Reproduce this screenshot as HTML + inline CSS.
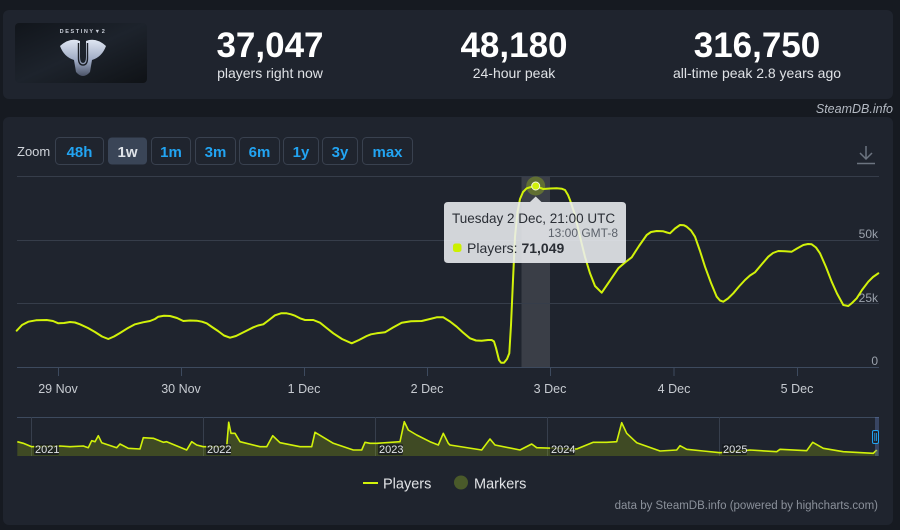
<!DOCTYPE html>
<html><head><meta charset="utf-8"><style>
html,body{margin:0;padding:0;background:#161a21;width:900px;height:530px;overflow:hidden}
svg{display:block}
text{font-family:"Liberation Sans",Arial,sans-serif}
</style></head><body>
<svg width="900" height="530" viewBox="0 0 900 530" xmlns="http://www.w3.org/2000/svg">
<defs>
<linearGradient id="thumb" x1="0" y1="0" x2="1" y2="1">
<stop offset="0" stop-color="#11151b"/><stop offset="0.5" stop-color="#1d232c"/><stop offset="1" stop-color="#0f1216"/>
</linearGradient>
<linearGradient id="logo" x1="0" y1="0" x2="0" y2="1">
<stop offset="0" stop-color="#dfe6f2"/><stop offset="0.6" stop-color="#9aa6c0"/><stop offset="1" stop-color="#4c5468"/>
</linearGradient>
</defs>
<rect x="0" y="0" width="900" height="530" fill="#161a21"/>
<!-- top panel -->
<rect x="3" y="10" width="890" height="89" rx="6" fill="#1f242e"/>
<rect x="15" y="23" width="132" height="60" rx="4" fill="url(#thumb)"/>
<text x="83" y="33" text-anchor="middle" font-size="5.5" letter-spacing="1.6" fill="#c9ced8" font-weight="bold">DESTINY▼2</text>
<path d="M60,46 Q70,37 80,41 L80,57 Q80,63 83,63 Q86,63 86,57 L86,41 Q96,37 106,46 Q102,57 92,60 L90,72 Q83,80 76,72 L74,60 Q64,57 60,46 Z" fill="url(#logo)"/>
<path d="M78.5,43 L78.5,58 Q78.5,65 83,65 Q87.5,65 87.5,58 L87.5,43" fill="none" stroke="#1a1e26" stroke-width="1.4"/>
<!-- stats -->
<text x="270" y="57" text-anchor="middle" font-size="35" font-weight="bold" fill="#ffffff">37,047</text>
<text x="270" y="78" text-anchor="middle" font-size="14" fill="#dfe2e6">players right now</text>
<text x="514" y="57" text-anchor="middle" font-size="35" font-weight="bold" fill="#ffffff">48,180</text>
<text x="514" y="78" text-anchor="middle" font-size="14" fill="#dfe2e6">24-hour peak</text>
<text x="757" y="57" text-anchor="middle" font-size="35" font-weight="bold" fill="#ffffff">316,750</text>
<text x="757" y="78" text-anchor="middle" font-size="14" fill="#dfe2e6">all-time peak 2.8 years ago</text>
<text x="893" y="113" text-anchor="end" font-size="12.5" font-style="italic" fill="#b4bac3">SteamDB.info</text>
<!-- chart panel -->
<rect x="3" y="117" width="890" height="408" rx="6" fill="#1f242e"/>
<text x="17" y="156" font-size="13" fill="#cfd3d9">Zoom</text>
<g font-size="15" font-weight="bold" text-anchor="middle" fill="#22a4f2">
<rect x="55.5" y="137.5" width="48" height="27" rx="4" fill="none" stroke="#39414f"/><text x="79.5" y="157">48h</text>
<rect x="108" y="137.5" width="39" height="27" rx="4" fill="#3a4557"/><text x="127.5" y="157" fill="#dfe3e8">1w</text>
<rect x="151.5" y="137.5" width="39" height="27" rx="4" fill="none" stroke="#39414f"/><text x="171" y="157">1m</text>
<rect x="195.5" y="137.5" width="40" height="27" rx="4" fill="none" stroke="#39414f"/><text x="215.5" y="157">3m</text>
<rect x="239.5" y="137.5" width="40" height="27" rx="4" fill="none" stroke="#39414f"/><text x="259.5" y="157">6m</text>
<rect x="283.5" y="137.5" width="35" height="27" rx="4" fill="none" stroke="#39414f"/><text x="301" y="157">1y</text>
<rect x="322.5" y="137.5" width="35" height="27" rx="4" fill="none" stroke="#39414f"/><text x="340" y="157">3y</text>
<rect x="362.5" y="137.5" width="50" height="27" rx="4" fill="none" stroke="#39414f"/><text x="387.5" y="157">max</text>
</g>
<!-- download icon -->
<g stroke="#6c7480" stroke-width="1.5" fill="none">
<line x1="866" y1="146" x2="866" y2="159"/><polyline points="860,153 866,159 872,153"/><line x1="857" y1="163.5" x2="875" y2="163.5"/>
</g>
<!-- plot band -->
<rect x="521.5" y="176" width="28.5" height="191" fill="#ffffff" fill-opacity="0.12"/>
<!-- grid -->
<g stroke="#363d4a" stroke-width="1">
<line x1="17" y1="176.5" x2="879" y2="176.5"/>
<line x1="17" y1="240.5" x2="879" y2="240.5"/>
<line x1="17" y1="303.5" x2="879" y2="303.5"/>
</g>
<line x1="17" y1="367.5" x2="879" y2="367.5" stroke="#3d4a5e"/>
<g stroke="#3d4a5e">
<line x1="58.5" y1="367" x2="58.5" y2="376"/><line x1="181.5" y1="367" x2="181.5" y2="376"/><line x1="304.5" y1="367" x2="304.5" y2="376"/><line x1="427.5" y1="367" x2="427.5" y2="376"/><line x1="550.5" y1="367" x2="550.5" y2="376"/><line x1="674" y1="367" x2="674" y2="376"/><line x1="797.5" y1="367" x2="797.5" y2="376"/>
</g>
<g font-size="12.5" fill="#c7cbd1" text-anchor="middle">
<text x="58" y="393">29 Nov</text><text x="181" y="393">30 Nov</text><text x="304" y="393">1 Dec</text><text x="427" y="393">2 Dec</text><text x="550" y="393">3 Dec</text><text x="674" y="393">4 Dec</text><text x="797" y="393">5 Dec</text>
</g>
<g font-size="12" fill="#9ba2ac" text-anchor="end">
<text x="878" y="238">50k</text><text x="878" y="302">25k</text><text x="878" y="365">0</text>
</g>
<!-- main series -->
<polyline fill="none" stroke="#d2f20a" stroke-width="2" stroke-linejoin="round" stroke-linecap="round" points="16.7,330.7 22,325 28.3,321.7 36,320.3 46.7,320 53,321 58.3,323.3 64,323 70,322 75,322.5 80,324.3 88,328 95,332 102,336.5 108.3,339 114,336.5 120,333 128,328 135,324.3 143,322.3 150,321 155,319 158.3,316.7 164,315.8 170,316 177,318 183.3,321 190,320.5 196.7,320.7 202,321.7 206.7,323.3 212,327 218,331 224,335.5 230,337.7 236,336 242,333 248,330 253.3,327.3 258,325.5 263.3,324.3 269,320 275,315.3 281,313.3 286.7,313.3 291,314.3 295,315.7 300,318.3 305,320 313.3,320 320,322.7 326,327.5 333.3,333.3 342,339 351.7,343.3 359,340 366.7,336 371,334.3 376.7,333.3 385,332.3 393,327.5 401.7,322.7 411,321.3 421.7,321 430,319 436.7,317.3 443.3,317.3 450,321.5 456.7,326.7 463,332.5 470,338.3 476,340.5 481.7,340.7 488,340 491.7,340 494,341.5 496,348 499,360 501,362.7 504,362.7 507,359 509.3,353.3 511,325 513,280 515,236.7 517.5,212 520,199 523,192 526.7,188.3 531,187 535.7,186 539,187.5 543.3,189 550,188.5 556.7,188.3 562,188.8 565,190 568,195 570,200 575,215 580,236.7 585,257 590,273.3 595,286 601.7,292.7 610,280.5 618.3,268.3 625,262.5 631.7,257.3 639,246 646.7,235 651,232 656.7,231 663.3,231.3 667,232.5 670,233.3 675,228.5 680,225 684,225.3 686.7,226.7 691,230.5 695,236.7 700,251 705,266.7 711,283 716.7,296.7 720,300.5 723.3,301.7 728,298.5 733.3,293.3 739,286.5 745,280 750,275.5 755,272.3 762,264 768.3,256.7 773,253 778.3,251 785,251.2 791.7,251.7 797,248.5 803.3,245 808,244 811.7,244.3 816,247.5 820,253.3 826,267 831.7,281.7 837,293.5 843.3,305 848.3,306 852,303 856.7,298.3 862,290 868.3,281.7 873,277 878.3,273.3"/>
<!-- hover point -->
<circle cx="535.7" cy="186" r="9.5" fill="#c8ef00" fill-opacity="0.28"/>
<circle cx="535.7" cy="186" r="4" fill="#d2f20a" stroke="#f4f8e0" stroke-width="1"/>
<!-- tooltip -->
<path d="M448,202 L530,202 L535.7,196.5 L541.5,202 L622,202 Q626,202 626,206 L626,259 Q626,263 622,263 L448,263 Q444,263 444,259 L444,206 Q444,202 448,202 Z" fill="#eceef1" fill-opacity="0.88"/>
<text x="452" y="223" font-size="13.5" fill="#2a2e35">Tuesday 2 Dec, 21:00 UTC</text>
<text x="618" y="237" font-size="12" fill="#5c626b" text-anchor="end">13:00 GMT-8</text>
<rect x="453" y="243.5" width="8.5" height="8.5" rx="2.5" fill="#ccf000"/>
<text x="467" y="253" font-size="14" fill="#2a2e35">Players: <tspan font-weight="bold">71,049</tspan></text>
<!-- navigator -->
<line x1="17" y1="417.5" x2="879" y2="417.5" stroke="#3d4a5e"/>
<g stroke="#373f4d">
<line x1="31.5" y1="417" x2="31.5" y2="456"/><line x1="203.5" y1="417" x2="203.5" y2="456"/><line x1="375.5" y1="417" x2="375.5" y2="456"/><line x1="547.5" y1="417" x2="547.5" y2="456"/><line x1="719.5" y1="417" x2="719.5" y2="456"/>
</g>
<polygon fill="#c4e800" fill-opacity="0.2" points="17.3,456 17.3,441.7 23.3,443.3 31.7,446.7 60,446 70,446.7 83.3,446 88.3,447.7 91.7,440.7 95,441.7 98.3,435.7 101.7,442.7 116.7,447.7 120,444 128.3,448.3 140,449 143.3,437.7 153.3,438.3 163.3,442.3 166.7,441.7 186.7,450 191.7,441.7 196.7,445 203.3,446.7 226.7,446.7 228.7,422.3 231,433.3 235,433.3 240,441.7 260,446.7 266.7,446.7 272.7,435.7 280,442.7 300,446.7 311.7,446.7 315,432.3 325,438.3 333.3,443.3 353.3,450 361.7,450 365,442.3 370,443.3 376.7,443.3 400,441.7 404.3,421.7 408.3,430 416.7,435 430,441.7 438.3,445 443.3,433.3 448.3,443.3 450,445 481.7,450 486.7,443.3 490,439 495,445 520,450 531.7,444 536.7,447.7 576.7,449 593.3,442.3 606.7,442.3 616.7,441.7 621.7,422.7 626.7,433.3 636.7,442.7 660,451 676.7,450 680,445.7 686.7,449.3 703.3,451 720,452.7 750,450 776.7,451.7 780,449.3 806.7,450.7 812.7,442.3 823.3,448.3 843.3,451.7 873.3,453.3 876.7,450 878,450 878,456"/>
<polyline fill="none" stroke="#d2f20a" stroke-width="1.6" stroke-linejoin="round" points="17.3,441.7 23.3,443.3 31.7,446.7 60,446 70,446.7 83.3,446 88.3,447.7 91.7,440.7 95,441.7 98.3,435.7 101.7,442.7 116.7,447.7 120,444 128.3,448.3 140,449 143.3,437.7 153.3,438.3 163.3,442.3 166.7,441.7 186.7,450 191.7,441.7 196.7,445 203.3,446.7 226.7,446.7 228.7,422.3 231,433.3 235,433.3 240,441.7 260,446.7 266.7,446.7 272.7,435.7 280,442.7 300,446.7 311.7,446.7 315,432.3 325,438.3 333.3,443.3 353.3,450 361.7,450 365,442.3 370,443.3 376.7,443.3 400,441.7 404.3,421.7 408.3,430 416.7,435 430,441.7 438.3,445 443.3,433.3 448.3,443.3 450,445 481.7,450 486.7,443.3 490,439 495,445 520,450 531.7,444 536.7,447.7 576.7,449 593.3,442.3 606.7,442.3 616.7,441.7 621.7,422.7 626.7,433.3 636.7,442.7 660,451 676.7,450 680,445.7 686.7,449.3 703.3,451 720,452.7 750,450 776.7,451.7 780,449.3 806.7,450.7 812.7,442.3 823.3,448.3 843.3,451.7 873.3,453.3 876.7,450"/>
<g fill="#15181d" fill-opacity="0.75">
<rect x="34" y="444" width="25" height="11" rx="1.5"/><rect x="206" y="444" width="25" height="11" rx="1.5"/><rect x="378" y="444" width="25" height="11" rx="1.5"/><rect x="550" y="444" width="25" height="11" rx="1.5"/><rect x="722" y="444" width="25" height="11" rx="1.5"/>
</g>
<g font-size="11" fill="#e2e5e9">
<text x="35" y="453">2021</text><text x="207" y="453">2022</text><text x="379" y="453">2023</text><text x="551" y="453">2024</text><text x="723" y="453">2025</text>
</g>
<rect x="875" y="417" width="4" height="39" fill="#6685c2" fill-opacity="0.35"/>
<rect x="872.5" y="430.5" width="6" height="13" rx="1.5" fill="#1f242e" stroke="#22a4f2"/>
<line x1="874.8" y1="433" x2="874.8" y2="441" stroke="#22a4f2" stroke-width="0.8"/>
<line x1="876.5" y1="433" x2="876.5" y2="441" stroke="#22a4f2" stroke-width="0.8"/>
<!-- legend -->
<line x1="363" y1="483" x2="378" y2="483" stroke="#d2f20a" stroke-width="2"/>
<text x="383" y="488.5" font-size="14.5" fill="#e1e3e6">Players</text>
<circle cx="461" cy="482.5" r="7" fill="#4a5a2a"/>
<text x="474" y="488.5" font-size="14.5" fill="#e1e3e6">Markers</text>
<text x="878" y="509" text-anchor="end" font-size="11.5" fill="#8b919b">data by SteamDB.info (powered by highcharts.com)</text>
</svg>
</body></html>
